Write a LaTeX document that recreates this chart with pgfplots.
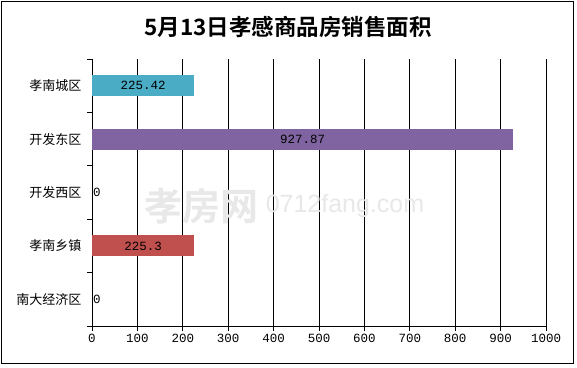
\documentclass[border=0pt]{standalone}
\usepackage{pgfplots}
\pgfplotsset{compat=1.18}
\usepackage{fontspec}
\setmainfont{Liberation Sans}
\newfontfamily\cjk{Noto Sans CJK SC}
\newfontfamily\cjkb{Noto Sans CJK SC Bold}
\newfontfamily\num{Liberation Mono}
\definecolor{cteal}{HTML}{4BACC6}
\definecolor{cpurp}{HTML}{8064A2}
\definecolor{cred}{HTML}{C0504D}
\begin{document}
\begin{tikzpicture}[x=1pt,y=1pt]
\begin{axis}[
  at={(0,0)}, anchor=south west,
  scale only axis, width=454pt, height=267pt,
  xmin=0, xmax=1000, ymin=-0.5, ymax=4.5,
  y dir=reverse,
  axis lines*=left,
  axis line style={black, line width=0.8pt},
  xtick={0,100,...,1000},
  /pgf/number format/1000 sep={},
  xmajorgrids, major grid style={black, line width=0.8pt},
  ytick={0,1,2,3,4},
  yticklabels={孝南城区,开发东区,开发西区,孝南乡镇,南大经济区},
  yticklabel style={font=\cjk\fontsize{13}{13}\selectfont, xshift=-2pt},
  xticklabel style={font=\num\fontsize{12.5}{12.5}\selectfont},
  /pgf/number format/assume math mode=true,
  ytick style={draw=none},
  xtick style={black, line width=0.8pt},
  tick align=outside, major tick length=5pt,
  extra y ticks={-0.5,0.5,1.5,2.5,3.5,4.5},
  extra y tick labels={},
  extra y tick style={ytick style={black, line width=0.8pt, draw=black}, major tick length=5pt},
  xbar, bar width=21pt, bar shift=0pt,
  clip=false,
]
\addplot[fill=cteal, draw=none] coordinates {(225.42,0)};
\addplot[fill=cpurp, draw=none] coordinates {(927.87,1)};
\addplot[fill=cred, draw=none] coordinates {(225.3,3)};
\addplot[xbar=0pt, draw=none, fill=none, forget plot, nodes near coords, point meta=explicit symbolic,
  nodes near coords style={anchor=center, font=\num\fontsize{12.5}{12.5}\selectfont, xshift=0pt}]
  coordinates {(112.71,0)[225.42] (463.935,1)[927.87] (112.65,3)[225.3]};
\addplot[only marks, mark=none, draw=none, forget plot, nodes near coords, point meta=explicit symbolic,
  nodes near coords style={anchor=west, inner sep=1pt, font=\num\fontsize{12.5}{12.5}\selectfont}]
  coordinates {(0,2)[0] (0,4)[0]};
\node[text=gray!18, font=\cjkb\fontsize{38}{38}\selectfont, anchor=east] at (axis cs:375,2.25) {孝房网};
\node[text=gray!18, font=\fontsize{25}{25}\selectfont, anchor=west] at (axis cs:375,2.25) {0712fang.com};
\end{axis}
\draw[black, line width=1pt] (-90,-37) rectangle (481,324);
\node[font=\cjkb\fontsize{22.5}{22.5}\selectfont] at (196,299) {5月13日孝感商品房销售面积};
\path (-92,-41) rectangle (485,326);
\end{tikzpicture}
\end{document}
